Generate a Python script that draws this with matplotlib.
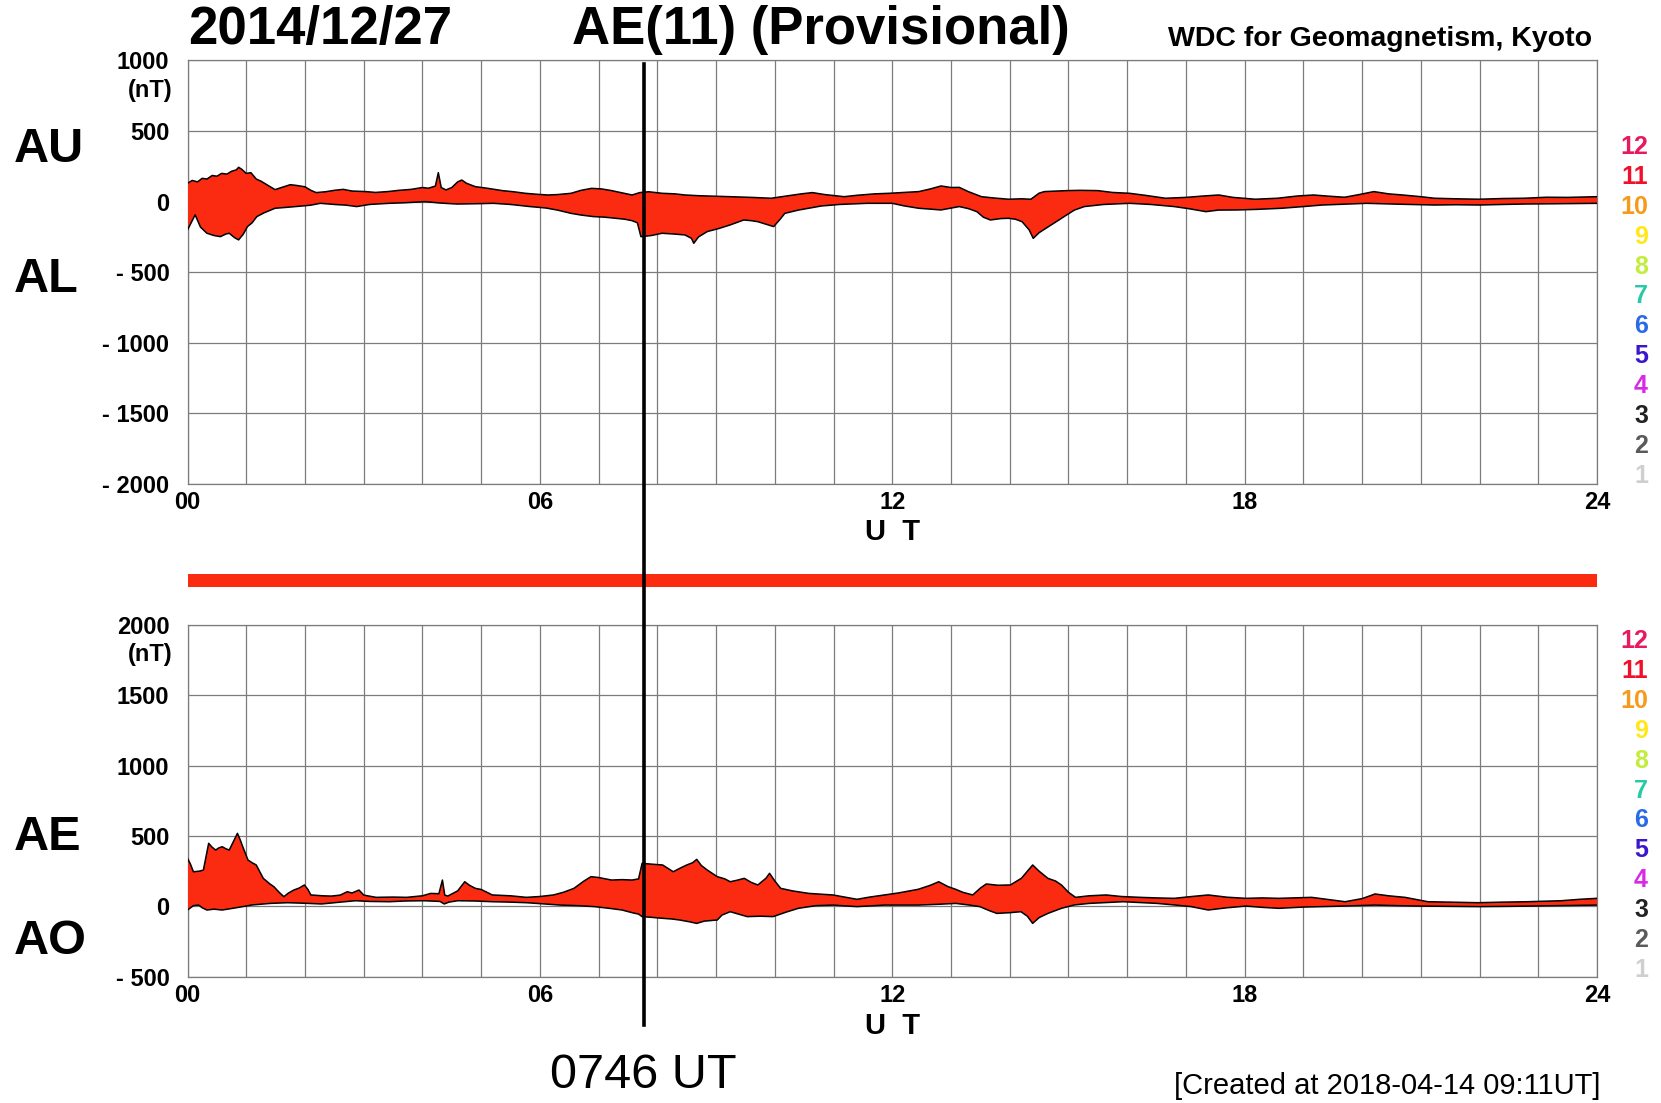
import numpy as np
import matplotlib
matplotlib.use("Agg")
import matplotlib.pyplot as plt
from matplotlib.lines import Line2D
from matplotlib import transforms

plt.rcParams["font.family"] = ["Liberation Sans", "DejaVu Sans"]

# AU / AL (nT), hours UT
au_hours = [0.00, 0.08, 0.17, 0.25, 0.33, 0.42, 0.50, 0.58, 0.67, 0.75, 0.83, 0.87, 0.92, 1.00,
            1.08, 1.17, 1.25, 1.35, 1.49, 1.60, 1.75, 1.85, 2.00, 2.10, 2.19, 2.35, 2.50, 2.65,
            2.80, 3.04, 3.20, 3.43, 3.60, 3.81, 4.00, 4.10, 4.22, 4.27, 4.32, 4.40, 4.50, 4.60,
            4.67, 4.75, 4.90, 5.10, 5.36, 5.55, 5.75, 5.95, 6.14, 6.30, 6.53, 6.70, 6.88, 7.05,
            7.22, 7.40, 7.57, 7.70, 7.85, 8.08, 8.30, 8.47, 8.70, 9.00, 9.24, 9.60, 9.94, 10.20,
            10.45, 10.64, 10.85, 11.18, 11.40, 11.70, 11.95, 12.20, 12.45, 12.65, 12.83, 13.00,
            13.14, 13.30, 13.52, 13.75, 13.98, 14.20, 14.36, 14.50, 14.59, 14.80, 14.97, 15.20,
            15.50, 15.75, 16.04, 16.30, 16.65, 17.00, 17.30, 17.56, 17.80, 18.18, 18.56, 18.90,
            19.17, 19.45, 19.70, 19.95, 20.20, 20.45, 20.69, 21.00, 21.23, 21.60, 21.99, 22.40,
            22.76, 23.14, 23.50, 24.00]
au_values = [130, 150, 140, 165, 160, 185, 180, 200, 195, 215, 225, 243, 230, 200,
             205, 160, 145, 120, 85, 100, 120, 115, 105, 80, 64, 70, 80, 87,
             75, 71, 65, 72, 80, 87, 100, 95, 110, 205, 100, 83, 100, 140,
             153, 130, 106, 95, 78, 70, 59, 52, 47, 50, 59, 80, 94, 90,
             78, 62, 47, 64, 70, 59, 55, 47, 42, 38, 35, 30, 24, 40,
             55, 64, 50, 35, 45, 55, 59, 65, 71, 90, 111, 100,
             101, 70, 35, 25, 17, 20, 17, 60, 71, 75, 78, 80,
             78, 65, 59, 45, 24, 30, 40, 47, 30, 17, 24, 40,
             47, 38, 31, 50, 71, 55, 47, 35, 24, 20, 17, 22,
             24, 31, 30, 35]

al_hours = [0.00, 0.13, 0.22, 0.33, 0.45, 0.56, 0.65, 0.71, 0.80, 0.87, 0.95, 1.02, 1.10, 1.18,
            1.30, 1.49, 1.70, 1.95, 2.10, 2.26, 2.50, 2.70, 2.88, 3.10, 3.43, 3.70, 4.05, 4.30,
            4.59, 4.90, 5.21, 5.50, 5.83, 6.10, 6.30, 6.53, 6.70, 6.91, 7.10, 7.29, 7.45, 7.57,
            7.66, 7.72, 7.90, 8.08, 8.30, 8.47, 8.58, 8.62, 8.70, 8.85, 9.05, 9.24, 9.47, 9.60,
            9.71, 9.85, 9.98, 10.10, 10.17, 10.40, 10.79, 11.10, 11.57, 12.00, 12.20, 12.45,
            12.83, 13.14, 13.30, 13.44, 13.55, 13.67, 13.85, 13.98, 14.10, 14.21, 14.33, 14.40,
            14.50, 14.66, 14.80, 14.97, 15.10, 15.27, 15.60, 16.04, 16.40, 16.80, 17.05, 17.34,
            17.55, 17.87, 18.20, 18.63, 19.00, 19.32, 19.70, 20.08, 20.60, 21.23, 21.60, 21.99,
            22.40, 22.76, 23.30, 24.00]
al_values = [-200, -94, -180, -224, -240, -248, -230, -224, -255, -271, -230, -177, -150, -106,
             -80, -47, -40, -31, -25, -12, -20, -25, -35, -20, -12, -8, 0, -10,
             -17, -15, -12, -20, -35, -45, -60, -83, -95, -106, -110, -118, -125, -135,
             -150, -248, -240, -224, -230, -236, -260, -295, -250, -212, -190, -165, -130, -135,
             -142, -160, -177, -120, -83, -60, -31, -20, -12, -12, -30, -47,
             -59, -35, -50, -71, -110, -130, -120, -118, -125, -142, -200, -260,
             -220, -177, -140, -94, -60, -35, -20, -12, -20, -35, -50, -71,
             -60, -59, -55, -47, -35, -24, -18, -12, -18, -24, -22, -24,
             -20, -17, -15, -12]

# AE / AO (nT), hours UT
ae_hours = [0.00, 0.05, 0.10, 0.20, 0.27, 0.36, 0.42, 0.48, 0.53, 0.59, 0.65, 0.71, 0.78, 0.85,
            0.90, 0.94, 1.03, 1.10, 1.17, 1.29, 1.40, 1.47, 1.56, 1.64, 1.72, 1.81, 1.90, 1.99,
            2.05, 2.10, 2.30, 2.45, 2.60, 2.72, 2.80, 2.92, 3.00, 3.21, 3.50, 3.73, 4.00, 4.14,
            4.28, 4.34, 4.38, 4.43, 4.60, 4.72, 4.80, 4.90, 5.00, 5.19, 5.50, 5.77, 6.00, 6.23,
            6.40, 6.58, 6.75, 6.87, 7.00, 7.22, 7.40, 7.57, 7.68, 7.74, 7.90, 8.09, 8.27, 8.38,
            8.50, 8.60, 8.67, 8.75, 8.85, 9.02, 9.15, 9.24, 9.35, 9.48, 9.60, 9.71, 9.85, 9.91,
            10.00, 10.10, 10.30, 10.58, 10.99, 11.20, 11.40, 11.60, 11.86, 12.10, 12.44, 12.65,
            12.79, 12.95, 13.08, 13.20, 13.37, 13.50, 13.60, 13.80, 14.01, 14.20, 14.39, 14.50,
            14.65, 14.78, 14.88, 15.00, 15.12, 15.35, 15.64, 15.90, 16.22, 16.50, 16.80, 17.10,
            17.38, 17.70, 18.02, 18.30, 18.58, 19.14, 19.40, 19.71, 20.00, 20.22, 20.45, 20.73,
            21.12, 21.50, 21.97, 22.40, 22.82, 23.39, 23.70, 24.00]
ae_values = [341, 300, 246, 250, 258, 448, 420, 400, 415, 424, 410, 400, 460, 519,
             470, 424, 329, 310, 294, 199, 160, 140, 100, 69, 95, 116, 130, 152,
             120, 81, 75, 73, 80, 104, 95, 116, 80, 64, 66, 64, 75, 92,
             90, 187, 80, 73, 110, 175, 150, 128, 120, 81, 75, 64, 70, 81,
             100, 128, 180, 211, 205, 187, 190, 187, 195, 306, 300, 294, 246, 270,
             294, 310, 334, 290, 258, 211, 195, 175, 185, 199, 170, 152, 200, 235,
             180, 128, 110, 92, 81, 65, 50, 65, 81, 95, 121, 150,
             175, 140, 121, 100, 81, 130, 159, 150, 152, 200, 294, 250,
             199, 180, 152, 100, 64, 75, 81, 70, 64, 60, 57, 70,
             81, 65, 57, 60, 57, 64, 50, 33, 55, 88, 75, 64,
             33, 30, 26, 30, 33, 40, 50, 57]

ao_hours = [0.00, 0.10, 0.19, 0.25, 0.33, 0.45, 0.59, 0.77, 0.94, 1.10, 1.41, 1.70, 2.00, 2.28,
            2.60, 2.86, 3.10, 3.44, 3.70, 4.02, 4.30, 4.37, 4.45, 4.60, 4.90, 5.19, 5.50, 5.77,
            6.05, 6.35, 6.65, 6.93, 7.20, 7.40, 7.57, 7.68, 7.74, 7.90, 8.09, 8.25, 8.38, 8.55,
            8.67, 8.80, 9.02, 9.10, 9.24, 9.53, 9.75, 9.97, 10.20, 10.40, 10.70, 10.99, 11.40,
            11.86, 12.44, 12.80, 13.08, 13.30, 13.49, 13.65, 13.78, 14.00, 14.19, 14.30, 14.39,
            14.50, 14.65, 14.88, 15.10, 15.35, 15.93, 16.51, 16.80, 17.09, 17.38, 17.70, 18.02,
            18.30, 18.58, 19.00, 19.50, 20.22, 20.60, 21.00, 21.50, 22.00, 22.50, 23.00, 24.00]
ao_values = [-26, 5, 9, -10, -26, -20, -26, -14, -2, 10, 21, 26, 22, 17,
             30, 40, 35, 33, 38, 40, 35, 17, 30, 40, 38, 33, 30, 26,
             18, 9, 5, -2, -15, -26, -45, -55, -73, -78, -85, -90, -97, -110,
             -121, -105, -97, -62, -38, -73, -70, -73, -40, -14, 5, 9, -2,
             9, 9, 15, 21, 10, -2, -30, -50, -45, -38, -70, -121,
             -80, -50, -14, 10, 21, 33, 21, 10, -2, -26, -10, 2,
             -7, -14, -5, 0, 9, 5, 2, 0, -2, 0, 3, 9]

top_ticks = [1000, 500, 0, -500, -1000, -1500, -2000]
top_tick_labels = ["1000", "500", "0", "- 500", "- 1000", "- 1500", "- 2000"]
bot_ticks = [2000, 1500, 1000, 500, 0, -500]
bot_tick_labels = ["2000", "1500", "1000", "500", "0", "- 500"]
hour_labels = {0: "00", 6: "06", 12: "12", 18: "18", 24: "24"}

level_labels = ["12", "11", "10", "9", "8", "7", "6", "5", "4", "3", "2", "1"]
level_colors = ["#e8195c", "#f0102a", "#f59a1a", "#ffe81a", "#c4ec3a", "#28c9a8",
                "#2a6ae8", "#3a16cc", "#d82ae6", "#222222", "#5a5a5a", "#cfcfcf"]

event_hour = 7 + 46 / 60

RED = "#fb2b12"
GRID = "#7c7c7c"

fig = plt.figure(figsize=(16.61, 11.03), dpi=100)
ax_top = fig.add_axes([0.1129, 0.5612, 0.8486, 0.3840])
ax_bot = fig.add_axes([0.1129, 0.1145, 0.8486, 0.3189])
ax_bar = fig.add_axes([0.1129, 0.4674, 0.8486, 0.0118])


def style_panel(ax, ticks, labels, nt_y, ut_y):
    ax.set_xlim(0, 24)
    ax.set_ylim(min(ticks), max(ticks))
    ax.set_xticks(range(25))
    ax.set_xticklabels([hour_labels.get(h, "") for h in range(25)],
                       fontsize=17, fontweight="bold")
    ax.set_yticks(ticks)
    ax.set_yticklabels(labels, fontsize=17, fontweight="bold")
    ax.tick_params(length=0)
    ax.tick_params(axis="y", pad=13)
    ax.tick_params(axis="x", pad=5)
    ax.grid(True, color=GRID, lw=0.9)
    ax.set_axisbelow(True)
    for sp in ax.spines.values():
        sp.set_color(GRID)
        sp.set_linewidth(0.9)
    ax.text(-0.011, nt_y, "(nT)", transform=ax.transAxes,
            ha="right", va="center", fontsize=17, fontweight="bold")
    ax.text(0.5, ut_y, "U  T", transform=ax.transAxes,
            ha="center", va="center", fontsize=21, fontweight="bold")


def draw_band(ax, h_hi, v_hi, h_lo, v_lo):
    xs = np.concatenate([h_hi, h_lo[::-1]])
    ys = np.concatenate([v_hi, v_lo[::-1]])
    ax.fill(xs, ys, color=RED, lw=0, zorder=3)
    ax.plot(h_hi, v_hi, color="black", lw=1.1, zorder=4)
    ax.plot(h_lo, v_lo, color="black", lw=1.1, zorder=4)


style_panel(ax_top, top_ticks, top_tick_labels, 0.93, -0.113)
style_panel(ax_bot, bot_ticks, bot_tick_labels, 0.915, -0.14)
draw_band(ax_top, np.array(au_hours), np.array(au_values), np.array(al_hours), np.array(al_values))
draw_band(ax_bot, np.array(ae_hours), np.array(ae_values), np.array(ao_hours), np.array(ao_values))

# data-availability bar
ax_bar.barh(0, 24, left=0, height=1, color=RED)
ax_bar.set_xlim(0, 24)
ax_bar.set_ylim(-0.5, 0.5)
ax_bar.axis("off")

# index names on the left
for label, y in [("AU", 150), ("AL", 279), ("AE", 837), ("AO", 942)]:
    fig.text(14 / 1661, 1 - y / 1103, label, ha="left", va="center",
             fontsize=35, fontweight="bold")

# station-count colour scale on the right
for top_px in (147, 641):
    for i, (lab, col) in enumerate(zip(level_labels, level_colors)):
        fig.text(1648 / 1661, 1 - (top_px + i * 29.9) / 1103, lab, ha="right",
                 va="center", fontsize=18, fontweight="bold", color=col)

# headers
fig.text(188 / 1661, 1 - 30 / 1103, "2014/12/27", ha="left", va="center",
         fontsize=38, fontweight="bold")
fig.text(572 / 1661, 1 - 30 / 1103, "AE(11) (Provisional)", ha="left", va="center",
         fontsize=38, fontweight="bold")
fig.text(1592 / 1661, 1 - 39 / 1103, "WDC for Geomagnetism, Kyoto", ha="right",
         va="center", fontsize=20.5, fontweight="bold")
fig.text(1600 / 1661, 1 - 1086 / 1103, "[Created at 2018-04-14 09:11UT]", ha="right",
         va="center", fontsize=21)

# event marker spanning both panels
blend = transforms.blended_transform_factory(ax_top.transData, fig.transFigure)
fig.add_artist(Line2D([event_hour, event_hour], [0.0703, 0.9423], transform=blend,
                      color="black", lw=2.6, zorder=10))
fig.text(event_hour, 1 - 1075 / 1103, "0746 UT", transform=blend, ha="center",
         va="center", fontsize=35)

fig.savefig("out.png", dpi=100)
